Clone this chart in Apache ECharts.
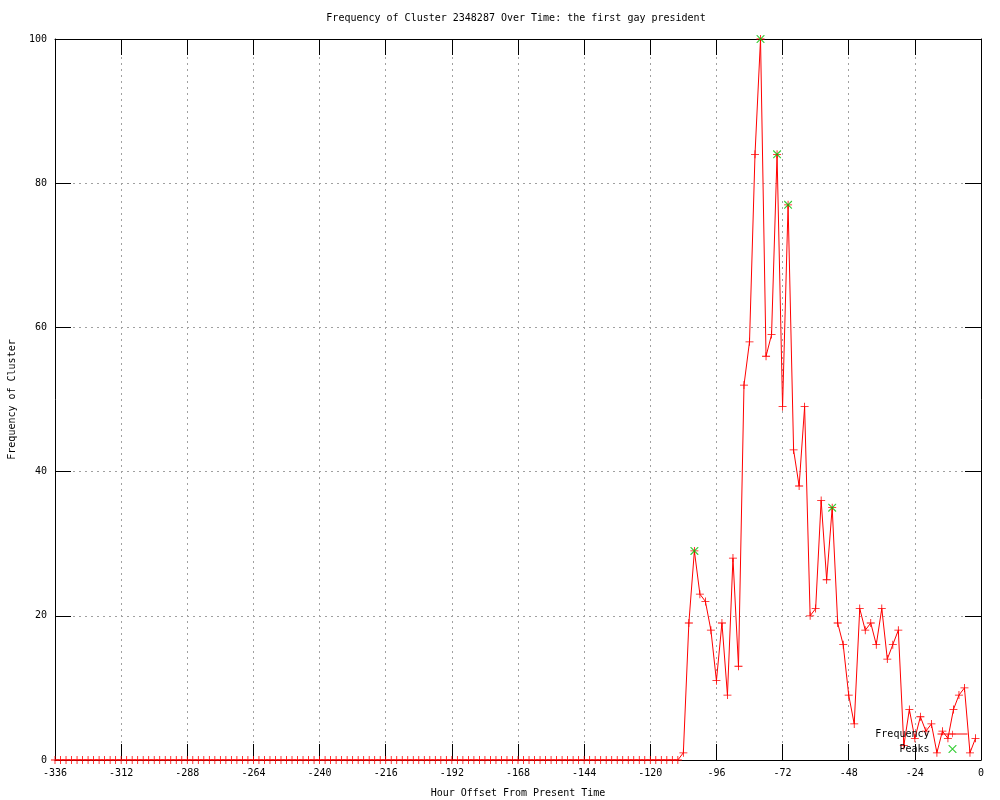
<!DOCTYPE html>
<html>
<head>
<meta charset="utf-8">
<script src="https://cdn.jsdelivr.net/npm/echarts@6/dist/echarts.min.js"></script>
<style>
  html, body { margin: 0; padding: 0; background: #fff; }
  #chart { width: 1000px; height: 800px; }
</style>
</head>
<body>
<div id="chart"></div>
<script>
// hour offsets, one point every 2 hours
var hours = [
  -336, -334, -332, -330, -328, -326, -324, -322, -320, -318, -316, -314,
  -312, -310, -308, -306, -304, -302, -300, -298, -296, -294, -292, -290,
  -288, -286, -284, -282, -280, -278, -276, -274, -272, -270, -268, -266,
  -264, -262, -260, -258, -256, -254, -252, -250, -248, -246, -244, -242,
  -240, -238, -236, -234, -232, -230, -228, -226, -224, -222, -220, -218,
  -216, -214, -212, -210, -208, -206, -204, -202, -200, -198, -196, -194,
  -192, -190, -188, -186, -184, -182, -180, -178, -176, -174, -172, -170,
  -168, -166, -164, -162, -160, -158, -156, -154, -152, -150, -148, -146,
  -144, -142, -140, -138, -136, -134, -132, -130, -128, -126, -124, -122,
  -120, -118, -116, -114, -112, -110, -108, -106, -104, -102, -100, -98,
  -96, -94, -92, -90, -88, -86, -84, -82, -80, -78, -76, -74,
  -72, -70, -68, -66, -64, -62, -60, -58, -56, -54, -52, -50,
  -48, -46, -44, -42, -40, -38, -36, -34, -32, -30, -28, -26,
  -24, -22, -20, -18, -16, -14, -12, -10, -8, -6, -4, -2
];
var frequency = [
  0, 0, 0, 0, 0, 0, 0, 0, 0, 0, 0, 0,
  0, 0, 0, 0, 0, 0, 0, 0, 0, 0, 0, 0,
  0, 0, 0, 0, 0, 0, 0, 0, 0, 0, 0, 0,
  0, 0, 0, 0, 0, 0, 0, 0, 0, 0, 0, 0,
  0, 0, 0, 0, 0, 0, 0, 0, 0, 0, 0, 0,
  0, 0, 0, 0, 0, 0, 0, 0, 0, 0, 0, 0,
  0, 0, 0, 0, 0, 0, 0, 0, 0, 0, 0, 0,
  0, 0, 0, 0, 0, 0, 0, 0, 0, 0, 0, 0,
  0, 0, 0, 0, 0, 0, 0, 0, 0, 0, 0, 0,
  0, 0, 0, 0, 0, 0, 1, 19, 29, 23, 22, 18,
  11, 19, 9, 28, 13, 52, 58, 84, 100, 56, 59, 84,
  49, 77, 43, 38, 49, 20, 21, 36, 25, 35, 19, 16,
  9, 5, 21, 18, 19, 16, 21, 14, 16, 18, 2, 7,
  3, 6, 4, 5, 1, 4, 3, 7, 9, 10, 1, 3
];
var peakHours = [-104, -80, -74, -70, -54];
var peakValues = [29, 100, 84, 77, 35];

var xTicks = [-336, -312, -288, -264, -240, -216, -192, -168, -144, -120, -96, -72, -48, -24, 0];
var yTicks = [0, 20, 40, 60, 80, 100];

var FONT = "DejaVu Sans Mono";
var PLUS = "path://M0,4.5H10V5.5H0ZM4.5,0H5.5V10H4.5Z";
var CROSS = "path://M0,0L1,0L10,9L10,10L9,10L0,1ZM9,0L10,0L10,1L1,10L0,10L0,9Z";

var freqData = hours.map(function (h, i) { return [h, frequency[i]]; });
var peakData = peakHours.map(function (h, i) { return [h, peakValues[i]]; });

var chart = echarts.init(document.getElementById("chart"));

var tickStyle = { show: true, inside: true, length: 16, lineStyle: { color: "#000", width: 1 } };

var option = {
  animation: false,
  backgroundColor: "#fff",
  textStyle: { fontFamily: FONT },
  title: {
    text: "Frequency of Cluster 2348287 Over Time: the first gay president",
    left: 516,
    textAlign: "center",
    top: 13,
    padding: 0,
    textStyle: { fontFamily: FONT, fontSize: 10, fontWeight: "normal", color: "#000" }
  },
  legend: {
    orient: "vertical",
    right: 32,
    top: 729,
    padding: 0,
    align: "right",
    itemWidth: 30,
    itemHeight: 8,
    itemGap: 5,
    lineStyle: { width: 1 },
    textStyle: { fontFamily: FONT, fontSize: 10, color: "#000", padding: [0, 3, 0, 0] },
    data: ["Frequency", "Peaks"]
  },
  grid: { left: 55, right: 19, top: 39, bottom: 40, outerBoundsMode: "none" },
  xAxis: [
    {
      type: "value",
      min: -336,
      max: 0,
      interval: 24,
      position: "bottom",
      name: "Hour Offset From Present Time",
      nameLocation: "middle",
      nameGap: 28,
      nameTextStyle: { fontFamily: FONT, fontSize: 10, color: "#000" },
      axisLine: { onZero: false, lineStyle: { color: "#000", width: 1 } },
      axisTick: tickStyle,
      axisLabel: {
        margin: 8, fontFamily: FONT, fontSize: 10, color: "#000",
        customValues: xTicks
      },
      splitLine: { show: true, lineStyle: { color: "#a0a0a0", type: [2, 4], width: 1 } }
    },
    {
      type: "value",
      min: -336,
      max: 0,
      interval: 24,
      position: "top",
      axisLine: { onZero: false, lineStyle: { color: "#000", width: 1 } },
      axisTick: tickStyle,
      axisLabel: { show: false },
      splitLine: { show: false }
    }
  ],
  yAxis: [
    {
      type: "value",
      min: 0,
      max: 100,
      interval: 20,
      position: "left",
      name: "Frequency of Cluster",
      nameLocation: "middle",
      nameGap: 38,
      nameTextStyle: { fontFamily: FONT, fontSize: 10, color: "#000" },
      axisLine: { show: true, onZero: false, lineStyle: { color: "#000", width: 1 } },
      axisTick: tickStyle,
      axisLabel: { margin: 8, fontFamily: FONT, fontSize: 10, color: "#000", customValues: yTicks },
      splitLine: { show: true, lineStyle: { color: "#a0a0a0", type: [2, 4], width: 1 } }
    },
    {
      type: "value",
      min: 0,
      max: 100,
      interval: 20,
      position: "right",
      axisLine: { show: true, onZero: false, lineStyle: { color: "#000", width: 1 } },
      axisTick: tickStyle,
      axisLabel: { show: false },
      splitLine: { show: false }
    }
  ],
  series: [
    {
      name: "Frequency",
      type: "line",
      data: freqData,
      symbol: PLUS,
      symbolSize: 8,
      showSymbol: true,
      showAllSymbol: true,
      lineStyle: { color: "#ff0000", width: 1 },
      itemStyle: { color: "#ff0000" },
      z: 3
    },
    {
      name: "Peaks",
      type: "scatter",
      data: peakData,
      symbol: CROSS,
      symbolSize: 8,
      itemStyle: { color: "#00c000" },
      z: 4
    }
  ]
};

chart.setOption(option);
</script>
</body>
</html>
